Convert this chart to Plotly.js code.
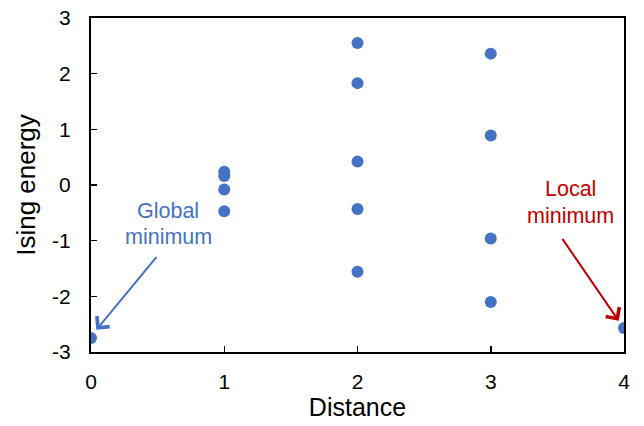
<!DOCTYPE html>
<html>
<head>
<meta charset="utf-8">
<script src="https://cdn.plot.ly/plotly-3.0.1.min.js"></script>
<style>html,body{margin:0;padding:0;background:#fff;}#chart{width:644px;height:426px;}</style>
</head>
<body>
<div id="chart"></div>
<script>
var distance = [0, 1, 1, 1, 1, 2, 2, 2, 2, 2, 3, 3, 3, 3, 4];
var energy = [-2.75, 0.24, 0.16, -0.08, -0.47, 2.55, 1.83, 0.42, -0.43, -1.56, 2.36, 0.89, -0.96, -2.10, -2.57];
var xTicks = [0, 1, 2, 3, 4];
var xTickText = ['0', '1', '2', '3', '4'];
var yTicks = [-3, -2, -1, 0, 1, 2, 3];
var yTickText = ['-3', '-2', '-1', '0', '1', '2', '3'];
var globalLines = ['Global', 'minimum'];
var localLines = ['Local', 'minimum'];

var FONT = 'Liberation Sans, Arial, sans-serif';

var trace = {
  x: distance, y: energy, type: 'scatter', mode: 'markers',
  marker: {color: '#4472C4', size: 12},
  hoverinfo: 'skip'
};

var axisCommon = {
  showgrid: false, zeroline: false, showline: true, linecolor: '#000', linewidth: 2,
  mirror: true, ticks: 'inside', ticklen: 6, tickwidth: 1.5, tickcolor: '#000',
  tickmode: 'array',
  tickfont: {family: FONT, size: 21, color: '#000'}
};

function textAnn(x, y, t, color) {
  return {x: x, y: y, xref: 'x', yref: 'y', text: t, showarrow: false,
          font: {family: FONT, size: 21.5, color: color}, align: 'center'};
}

var layout = {
  width: 644, height: 426,
  margin: {l: 91, r: 20, t: 18, b: 74},
  paper_bgcolor: '#fff', plot_bgcolor: '#fff',
  showlegend: false,
  xaxis: Object.assign({}, axisCommon, {
    range: [0, 4], tickvals: xTicks, ticktext: xTickText, ticklabelstandoff: 10,
    title: {text: 'Distance', font: {family: FONT, size: 25, color: '#000'}, standoff: 6}
  }),
  yaxis: Object.assign({}, axisCommon, {
    range: [-3, 3], tickvals: yTicks, ticktext: yTickText, ticklabelstandoff: 14,
    title: {text: 'Ising energy', font: {family: FONT, size: 26, color: '#000'}, standoff: 9}
  }),
  annotations: [
    textAnn(0.58, -0.47, globalLines[0], '#4472C4'),
    textAnn(0.58, -0.94, globalLines[1], '#4472C4'),
    {x: 0.04, y: -2.60, xref: 'x', yref: 'y', axref: 'x', ayref: 'y', ax: 0.5, ay: -1.27,
     text: '', showarrow: true, arrowhead: 4, arrowsize: 1.6, arrowwidth: 2, arrowcolor: '#4472C4', standoff: 0},
    textAnn(3.60, -0.08, localLines[0], '#C00000'),
    textAnn(3.60, -0.56, localLines[1], '#C00000'),
    {x: 3.96, y: -2.44, xref: 'x', yref: 'y', axref: 'x', ayref: 'y', ax: 3.53, ay: -0.94,
     text: '', showarrow: true, arrowhead: 4, arrowsize: 1.6, arrowwidth: 2, arrowcolor: '#C00000', standoff: 0}
  ]
};

Plotly.newPlot('chart', [trace], layout, {displayModeBar: false, staticPlot: true});
</script>
</body>
</html>
